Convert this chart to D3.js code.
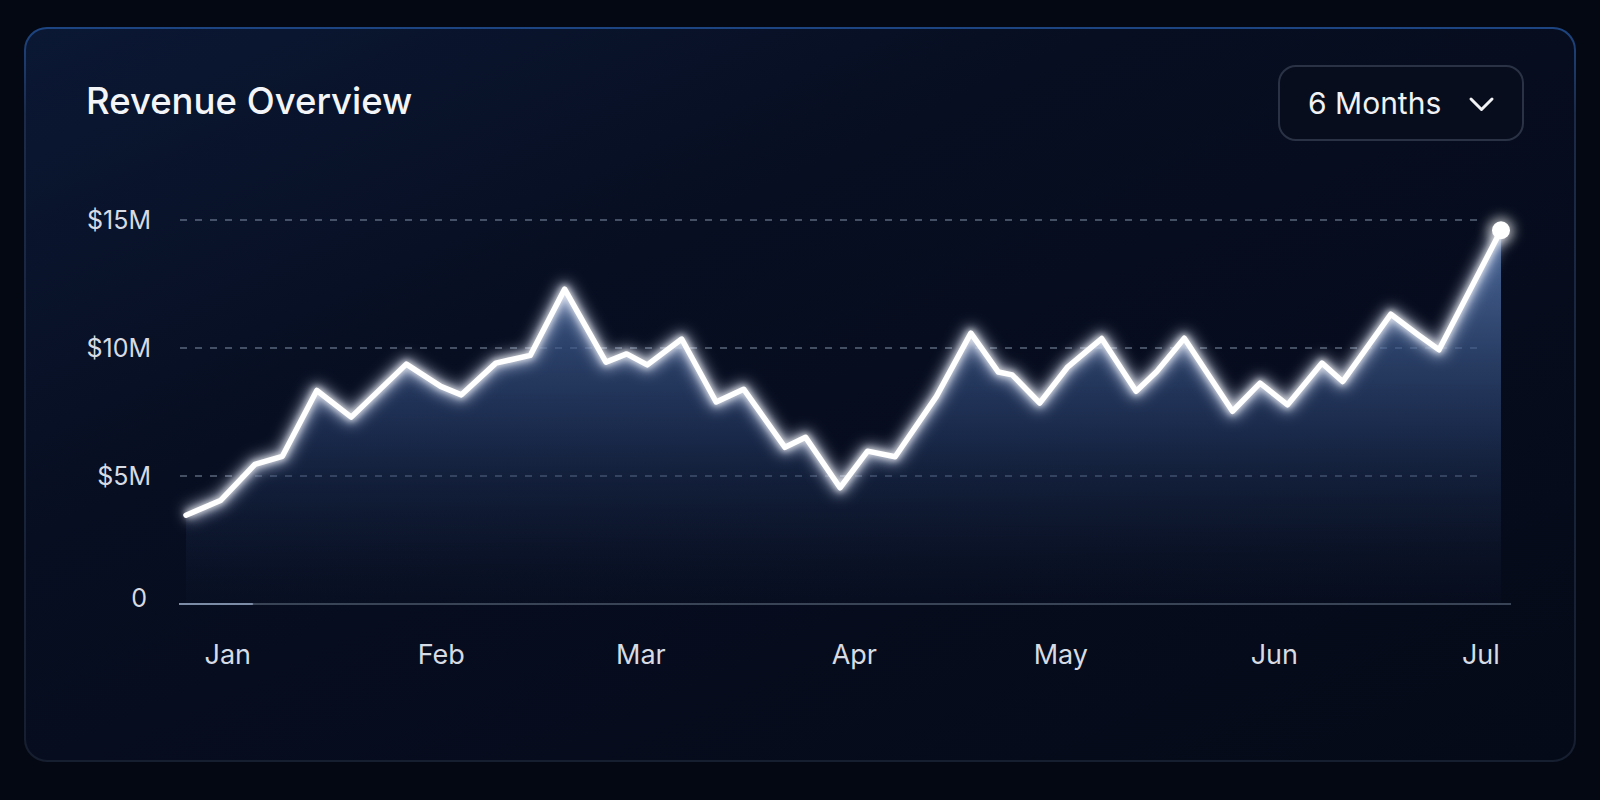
<!DOCTYPE html>
<html>
<head>
<meta charset="utf-8">
<script src="https://cdn.jsdelivr.net/npm/d3@7"></script>
<style>
  html, body { margin: 0; padding: 0; background: #040812; }
  svg { display: block; font-family: Inter, "Noto Sans", sans-serif; }
</style>
</head>
<body>
<svg id="chart"></svg>
<script>
// Data (revenue in $M)
var dates = ["2023-12-26","2023-12-31","2024-01-05","2024-01-09","2024-01-14","2024-01-19","2024-01-27",
             "2024-02-01","2024-02-04","2024-02-09","2024-02-14","2024-02-19","2024-02-25","2024-02-28",
             "2024-03-02","2024-03-07","2024-03-12","2024-03-16","2024-03-22","2024-03-25","2024-03-30",
             "2024-04-03","2024-04-07","2024-04-13","2024-04-18","2024-04-22","2024-04-24","2024-04-28",
             "2024-05-02","2024-05-07","2024-05-12","2024-05-15","2024-05-19","2024-05-26","2024-05-30",
             "2024-06-03","2024-06-08","2024-06-11","2024-06-18","2024-06-22","2024-06-25","2024-07-04"];
var revenue = [3.47,4.04,5.45,5.77,8.34,7.30,9.37,
               8.50,8.17,9.41,9.71,12.30,9.45,9.77,
               9.34,10.35,7.89,8.39,6.12,6.51,4.54,
               5.97,5.75,8.11,10.58,9.06,8.95,7.85,
               9.24,10.37,8.31,9.08,10.38,7.53,8.63,
               7.78,9.41,8.69,11.32,10.51,9.93,14.60];
var yTicks = [0, 5, 10, 15];
var title = "Revenue Overview";
var rangeLabel = "6 Months";

// SVG size params
var width = 1600;
var height = 800;

var svg = d3.select("#chart")
    .attr("width", width)
    .attr("height", height);

var parseDate = d3.timeParse("%Y-%m-%d");
var data = dates.map(function(d, i) { return {date: parseDate(d), value: revenue[i]}; });

// Scales
var x = d3.scaleTime()
    .domain(d3.extent(data, function(d) { return d.date; }))
    .range([186, 1501]);

var y = d3.scaleLinear()
    .domain([0, 15])
    .range([604, 220]);

// Defs: gradients + glow
var defs = svg.append("defs");

var cardFill = defs.append("linearGradient").attr("id", "cardFill")
    .attr("x1", 0).attr("y1", 0).attr("x2", 1).attr("y2", 1);
cardFill.append("stop").attr("offset", 0).attr("stop-color", "#0b1834");
cardFill.append("stop").attr("offset", 0.35).attr("stop-color", "#070e21");
cardFill.append("stop").attr("offset", 1).attr("stop-color", "#050a18");

var cardStroke = defs.append("linearGradient").attr("id", "cardStroke")
    .attr("x1", 0).attr("y1", 0).attr("x2", 0).attr("y2", 1);
cardStroke.append("stop").attr("offset", 0).attr("stop-color", "#1d4582");
cardStroke.append("stop").attr("offset", 0.12).attr("stop-color", "#1a2a48");
cardStroke.append("stop").attr("offset", 1).attr("stop-color", "#161f30");

var areaFill = defs.append("linearGradient").attr("id", "areaFill")
    .attr("gradientUnits", "userSpaceOnUse")
    .attr("x1", 0).attr("y1", y(13)).attr("x2", 0).attr("y2", y(0));
areaFill.append("stop").attr("offset", 0).attr("stop-color", "#4e6ea3").attr("stop-opacity", 0.8);
areaFill.append("stop").attr("offset", 0.45).attr("stop-color", "#2a4270").attr("stop-opacity", 0.6);
areaFill.append("stop").attr("offset", 1).attr("stop-color", "#0f1a33").attr("stop-opacity", 0.12);

var baseStroke = defs.append("linearGradient").attr("id", "baseStroke")
    .attr("gradientUnits", "userSpaceOnUse")
    .attr("x1", 179).attr("y1", 0).attr("x2", 1511).attr("y2", 0);
baseStroke.append("stop").attr("offset", 0).attr("stop-color", "#7d8ca6");
baseStroke.append("stop").attr("offset", 0.055).attr("stop-color", "#7d8ca6");
baseStroke.append("stop").attr("offset", 0.056).attr("stop-color", "#394457");
baseStroke.append("stop").attr("offset", 1).attr("stop-color", "#394457");

var glow = defs.append("filter").attr("id", "glow")
    .attr("x", "-10%").attr("y", "-20%").attr("width", "120%").attr("height", "140%");
glow.append("feGaussianBlur").attr("stdDeviation", 7);

var dotGlow = defs.append("filter").attr("id", "dotGlow")
    .attr("x", "-150%").attr("y", "-150%").attr("width", "400%").attr("height", "400%");
dotGlow.append("feGaussianBlur").attr("stdDeviation", 6);

var softGlow = defs.append("filter").attr("id", "softGlow")
    .attr("x", "-50%").attr("y", "-50%").attr("width", "200%").attr("height", "200%");
softGlow.append("feGaussianBlur").attr("stdDeviation", 3);

// Card
svg.append("rect")
    .attr("x", 25).attr("y", 28)
    .attr("width", 1550).attr("height", 733)
    .attr("rx", 22)
    .attr("fill", "url(#cardFill)")
    .attr("stroke", "url(#cardStroke)")
    .attr("stroke-width", 2);

// Title
svg.append("text")
    .attr("x", 86).attr("y", 114)
    .attr("font-size", 36.5)
    .attr("font-weight", 500)
    .attr("fill", "#f3f5f9")
    .text(title);

// Dropdown
var dd = svg.append("g");
dd.append("rect")
    .attr("x", 1279).attr("y", 66)
    .attr("width", 244).attr("height", 74)
    .attr("rx", 17)
    .attr("fill", "#070d1c")
    .attr("stroke", "#2a3345")
    .attr("stroke-width", 2);
dd.append("text")
    .attr("x", 1308).attr("y", 114)
    .attr("font-size", 30)
    .attr("fill", "#f0f2f6")
    .text(rangeLabel);
dd.append("path")
    .attr("d", "M1471,99 L1481.5,109.5 L1492,99")
    .attr("fill", "none")
    .attr("stroke", "#f0f2f6")
    .attr("stroke-width", 3)
    .attr("stroke-linecap", "round")
    .attr("stroke-linejoin", "round");

// Grid lines
svg.append("g")
  .selectAll("line")
    .data(yTicks.filter(function(d) { return d > 0; }))
  .enter().append("line")
    .attr("x1", 180).attr("x2", 1481)
    .attr("y1", function(d) { return y(d); })
    .attr("y2", function(d) { return y(d); })
    .attr("stroke", "#7c8aa3")
    .attr("stroke-opacity", 0.7)
    .attr("stroke-width", 1.5)
    .attr("stroke-dasharray", "7 8");

// Y axis labels
var yAxis = svg.append("g")
    .attr("transform", "translate(151,0)")
    .call(d3.axisLeft(y)
      .tickValues(yTicks)
      .tickSize(0)
      .tickPadding(0)
      .tickFormat(function(d) { return d === 0 ? "0" : "$" + d + "M"; }));
yAxis.select(".domain").remove();
yAxis.selectAll("text")
    .attr("font-size", 25)
    .attr("font-family", "Inter, sans-serif")
    .attr("fill", "#d6dbe4");
yAxis.selectAll(".tick").filter(function(d) { return d === 0; })
  .select("text")
    .attr("x", -4)
    .attr("dy", "0.1em");

// Area + line
var area = d3.area()
    .x(function(d) { return x(d.date); })
    .y0(y(0))
    .y1(function(d) { return y(d.value); });

var line = d3.line()
    .x(function(d) { return x(d.date); })
    .y(function(d) { return y(d.value); });

svg.append("path")
    .datum(data)
    .attr("d", area)
    .attr("fill", "url(#areaFill)");

// Baseline
svg.append("line")
    .attr("x1", 179).attr("x2", 1511)
    .attr("y1", y(0)).attr("y2", y(0))
    .attr("stroke", "url(#baseStroke)")
    .attr("stroke-width", 2);

svg.append("path")
    .datum(data)
    .attr("d", line)
    .attr("fill", "none")
    .attr("stroke", "#dfe8ff")
    .attr("stroke-opacity", 0.6)
    .attr("stroke-width", 14)
    .attr("stroke-linejoin", "round")
    .attr("filter", "url(#glow)");

svg.append("path")
    .datum(data)
    .attr("d", line)
    .attr("fill", "none")
    .attr("stroke", "#ffffff")
    .attr("stroke-opacity", 0.7)
    .attr("stroke-width", 8)
    .attr("stroke-linejoin", "round")
    .attr("filter", "url(#softGlow)");

svg.append("path")
    .datum(data)
    .attr("d", line)
    .attr("fill", "none")
    .attr("stroke", "#ffffff")
    .attr("stroke-width", 5.5)
    .attr("stroke-linejoin", "round")
    .attr("stroke-linecap", "round");

// End point
var last = data[data.length - 1];
svg.append("circle")
    .attr("cx", x(last.date)).attr("cy", y(last.value))
    .attr("r", 13)
    .attr("fill", "#ffffff")
    .attr("fill-opacity", 0.6)
    .attr("filter", "url(#dotGlow)");
svg.append("circle")
    .attr("cx", x(last.date)).attr("cy", y(last.value))
    .attr("r", 9)
    .attr("fill", "#ffffff");

// X axis labels
var xAxis = svg.append("g")
    .call(d3.axisBottom(x)
      .ticks(d3.timeMonth.every(1))
      .tickSize(0)
      .tickFormat(d3.timeFormat("%b")));
xAxis.select(".domain").remove();
xAxis.selectAll("text")
    .attr("y", 664)
    .attr("dy", 0)
    .attr("font-size", 27)
    .attr("font-family", "Inter, sans-serif")
    .attr("fill", "#d6dbe4");
</script>
</body>
</html>
